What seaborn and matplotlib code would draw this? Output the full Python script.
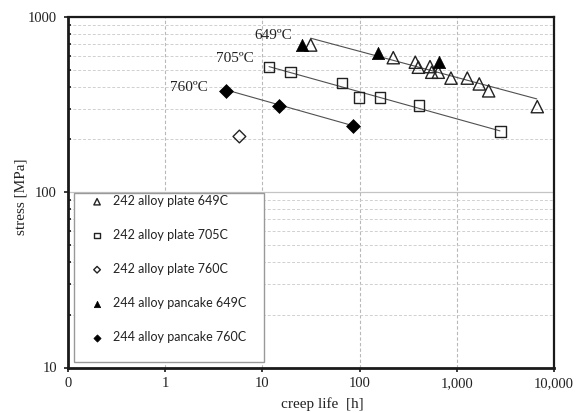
import matplotlib
matplotlib.use("Agg")
import matplotlib.pyplot as plt
from matplotlib.patches import Rectangle
from matplotlib.ticker import FixedLocator, FixedFormatter, NullFormatter
import seaborn as sns

sns.set_theme(style="white")
plt.rcParams["font.family"] = ["Liberation Serif", "DejaVu Serif"]

# creep rupture data: life [h], stress [MPa]
plate649_life = [31.4, 222, 374, 402, 530, 552, 645, 871, 1282, 1703, 2127, 6730]
plate649_stress = [692, 586, 552, 517, 521, 484, 484, 448, 448, 415, 379, 308]
plate705_life = [11.7, 19.5, 65.5, 99, 162, 406, 2805]
plate705_stress = [517, 484, 419, 347, 347, 312, 222]
plate760_life = [5.8]
plate760_stress = [208]
pancake649_life = [25.7, 153, 661]
pancake649_stress = [692, 621, 552]
pancake760_life = [4.22, 14.9, 84.9]
pancake760_stress = [380, 311, 240]

# power-law trend lines (end points)
fit649_life = [31.4, 6640]
fit649_stress = [757, 341]
fit705_life = [11.7, 2780]
fit705_stress = [521, 224]
fit760_life = [4.22, 84.9]
fit760_stress = [384, 240]

x_ticks = [0.1, 1, 10, 100, 1000, 10000]
x_tick_labels = ["0", "1", "10", "100", "1,000", "10,000"]
y_ticks = [10, 100, 1000]
y_tick_labels = ["10", "100", "1000"]

fig = plt.figure(figsize=(5.76, 4.13), dpi=100)
ax = fig.add_axes([68 / 576, 1 - 367.5 / 413, 486 / 576, 350.5 / 413])
ax.set_xscale("log")
ax.set_yscale("log")
ax.set_xlim(0.1, 10000)
ax.set_ylim(10, 1000)

# grid
ax.xaxis.set_major_locator(FixedLocator(x_ticks))
ax.xaxis.set_major_formatter(FixedFormatter(x_tick_labels))
ax.xaxis.set_minor_locator(FixedLocator([]))
ax.yaxis.set_major_locator(FixedLocator(y_ticks))
ax.yaxis.set_major_formatter(FixedFormatter(y_tick_labels))
ax.yaxis.set_minor_locator(FixedLocator([m * d for d in (10, 100) for m in range(2, 10)]))
ax.yaxis.set_minor_formatter(NullFormatter())
ax.grid(True, which="major", axis="x", color="#b8b8b8", linestyle=(0, (3, 2)), linewidth=0.8)
ax.grid(True, which="major", axis="y", color="#c4c4c4", linestyle="-", linewidth=0.9)
ax.grid(True, which="minor", axis="y", color="#d0d0d0", linestyle=(0, (3, 2)), linewidth=0.7)
ax.set_axisbelow(True)

line_kw = dict(color="#505050", linewidth=0.8, legend=False, ax=ax, zorder=2)
sns.lineplot(x=fit649_life, y=fit649_stress, **line_kw)
sns.lineplot(x=fit705_life, y=fit705_stress, **line_kw)
sns.lineplot(x=fit760_life, y=fit760_stress, **line_kw)

open_kw = dict(facecolor="none", edgecolor="#222222", linewidth=1.0, ax=ax, zorder=3)
fill_kw = dict(facecolor="black", edgecolor="black", linewidth=0.5, ax=ax, zorder=3)
sns.scatterplot(x=plate649_life, y=plate649_stress, marker="^", s=78,
                label="242 alloy plate 649C", **open_kw)
sns.scatterplot(x=plate705_life, y=plate705_stress, marker="s", s=56,
                label="242 alloy plate 705C", **open_kw)
sns.scatterplot(x=plate760_life, y=plate760_stress, marker="D", s=42,
                label="242 alloy plate 760C", **open_kw)
sns.scatterplot(x=pancake649_life, y=pancake649_stress, marker="^", s=78,
                label="244 alloy pancake 649C", **fill_kw)
sns.scatterplot(x=pancake760_life, y=pancake760_stress, marker="D", s=50,
                label="244 alloy pancake 760C", **fill_kw)

# temperature annotations
ax.text(20.2, 789, "649ºC", ha="right", va="center", fontsize=11, color="#222222")
ax.text(8.2, 577, "705ºC", ha="right", va="center", fontsize=11, color="#222222")
ax.text(2.75, 394, "760ºC", ha="right", va="center", fontsize=11, color="#222222")

# spines and ticks
for side, lw in (("left", 2.0), ("bottom", 2.0), ("top", 1.6), ("right", 1.6)):
    ax.spines[side].set_visible(True)
    ax.spines[side].set_color("#1a1a1a")
    ax.spines[side].set_linewidth(lw)
ax.tick_params(axis="both", which="major", direction="out", length=3, width=1.2,
               color="#1a1a1a", labelsize=10.5, labelcolor="#222222", left=True, bottom=True)
ax.tick_params(axis="x", which="major", pad=4)
ax.tick_params(axis="y", which="major", pad=5)
ax.tick_params(axis="y", which="minor", direction="in", length=2.5, width=1.2,
               color="#1a1a1a", left=True)

ax.set_xlabel("creep life  [h]", fontsize=11, color="#222222")
ax.set_ylabel("stress [MPa]", fontsize=11, color="#222222")
ax.xaxis.set_label_coords(0.523, -0.085)
ax.yaxis.set_label_coords(-0.084, 0.486)

# legend box
handles, labels = ax.get_legend_handles_labels()
ax.add_patch(Rectangle((6 / 486, 5.5 / 350.5), 190 / 486, 169.5 / 350.5,
                       transform=ax.transAxes, facecolor="white", edgecolor="#999999",
                       linewidth=1.0, zorder=4))
leg = ax.legend(handles, labels, loc="upper left",
                bbox_to_anchor=(20 / 486, 1 - (195 - 17) / 350.5),
                frameon=False, borderpad=0, borderaxespad=0,
                prop={"family": "Lato", "size": 9},
                markerscale=0.52, handlelength=1.45, handletextpad=0.55,
                labelspacing=1.76)
leg.set_zorder(5)
for t in leg.get_texts():
    t.set_color("#222222")

fig.savefig("out.png", dpi=100, facecolor="white")
